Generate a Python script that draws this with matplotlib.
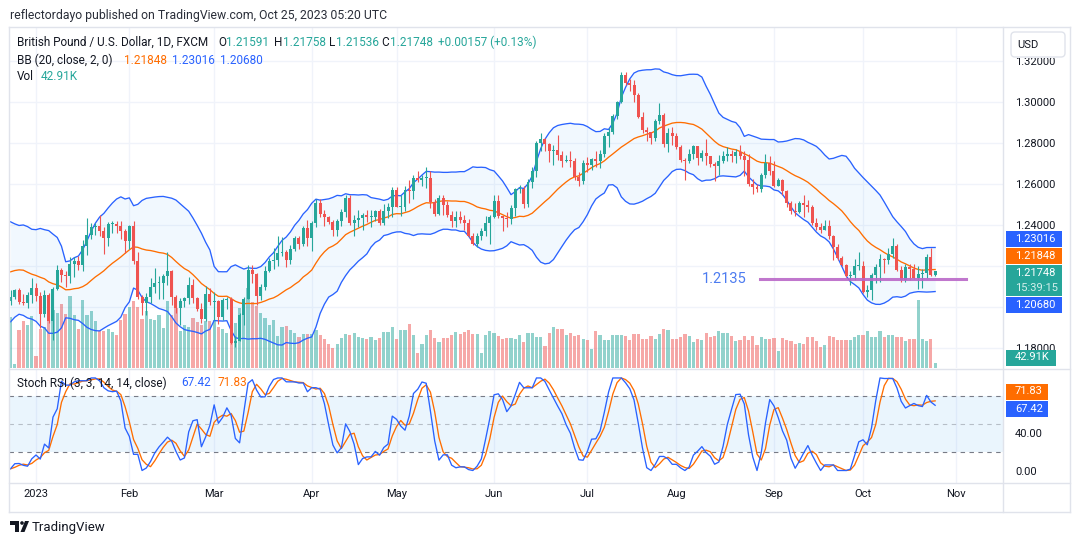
import matplotlib
matplotlib.use("Agg")
import matplotlib.pyplot as plt
import numpy as np
import pandas as pd
from matplotlib.patches import Rectangle, FancyBboxPatch, Polygon, Circle
from matplotlib.transforms import blended_transform_factory

W, H = 1080, 545
plt.rcParams["font.family"] = ["Roboto", "DejaVu Sans"]

DARK = "#131722"
GRID = "#f0f3fa"
BORDER = "#e0e3eb"
UP = "#26a69a"
DOWN = "#ef5350"
BLUE = "#2962ff"
ORANGE = "#ff6d00"

# closes Nov 1 - Dec 22 2022: indicator history only, not drawn
warm_close = [
    1.1470, 1.1390, 1.1160, 1.1375, 1.1510, 1.1540, 1.1330, 1.1700, 1.1770, 1.1760,
    1.1860, 1.1870, 1.1850, 1.1890, 1.1825, 1.1890, 1.2050, 1.2115, 1.2090, 1.1960,
    1.1960, 1.2050,
    1.2265, 1.2280, 1.2185, 1.2140, 1.2205, 1.2240, 1.2265, 1.2285, 1.2370, 1.2420,
    1.2190, 1.2140, 1.2155, 1.2150, 1.2105, 1.2030,
]

# daily bars Dec 23 2022 - Oct 25 2023 (open = previous close)
close = [
    1.2050, 1.2085, 1.2025, 1.2020, 1.2060, 1.2095,
    1.2055, 1.1965, 1.2060, 1.1935, 1.2090, 1.2180, 1.2155, 1.2150, 1.2210, 1.2225,
    1.2205, 1.2300, 1.2350, 1.2390, 1.2395, 1.2370, 1.2335, 1.2405, 1.2405, 1.2395,
    1.2370, 1.2320,
    1.2395, 1.2225, 1.2050, 1.2020, 1.2050, 1.2100, 1.2120, 1.2120, 1.2150, 1.2175,
    1.2050, 1.1995, 1.2030, 1.2045, 1.2110, 1.2045, 1.1990, 1.1945, 1.2065, 1.2025,
    1.2030, 1.1950, 1.2035, 1.2040, 1.1825, 1.1835, 1.1960, 1.2040, 1.2180, 1.2160,
    1.2055, 1.2100, 1.2175, 1.2225, 1.2230, 1.2265, 1.2270, 1.2230, 1.2285, 1.2335,
    1.2310, 1.2385, 1.2335,
    1.2410, 1.2505, 1.2455, 1.2440, 1.2415, 1.2375, 1.2420, 1.2465, 1.2530, 1.2410,
    1.2425, 1.2435, 1.2450, 1.2440, 1.2440, 1.2470, 1.2410, 1.2470, 1.2490, 1.2570,
    1.2490, 1.2490, 1.2570, 1.2565, 1.2630, 1.2620, 1.2630, 1.2630, 1.2510, 1.2455,
    1.2530, 1.2495, 1.2450, 1.2420, 1.2440, 1.2425, 1.2410, 1.2345, 1.2310, 1.2345,
    1.2370, 1.2410, 1.2440,
    1.2515, 1.2445, 1.2435, 1.2430, 1.2485, 1.2575, 1.2575, 1.2500, 1.2610, 1.2665,
    1.2800, 1.2820, 1.2795, 1.2760, 1.2765, 1.2740, 1.2710, 1.2715, 1.2710, 1.2635,
    1.2615, 1.2700,
    1.2690, 1.2720, 1.2710, 1.2745, 1.2835, 1.2855, 1.2930, 1.3000, 1.3130, 1.3090,
    1.3080, 1.3035, 1.2925, 1.2860, 1.2855, 1.2825, 1.2905, 1.2935, 1.2795, 1.2850,
    1.2835,
    1.2780, 1.2715, 1.2710, 1.2745, 1.2785, 1.2725, 1.2750, 1.2735, 1.2695, 1.2685,
    1.2710, 1.2735, 1.2745, 1.2735, 1.2755, 1.2735, 1.2715, 1.2600, 1.2585, 1.2575,
    1.2645, 1.2700, 1.2665,
    1.2590, 1.2620, 1.2565, 1.2505, 1.2470, 1.2465, 1.2505, 1.2495, 1.2490, 1.2410,
    1.2390, 1.2375, 1.2395, 1.2345, 1.2295, 1.2240, 1.2205, 1.2150, 1.2155, 1.2200,
    1.2200,
    1.2075, 1.2085, 1.2155, 1.2195, 1.2235, 1.2230, 1.2260, 1.2300, 1.2180, 1.2130,
    1.2195, 1.2185, 1.2140, 1.2160, 1.2165, 1.2245, 1.21591, 1.21748,
]

high = [
    1.2085, 1.2090, 1.2095, 1.2065, 1.2075, 1.2140,
    1.2120, 1.2075, 1.2085, 1.2070, 1.2100, 1.2205, 1.2190, 1.2175, 1.2245, 1.2245,
    1.2250, 1.2325, 1.2435, 1.2410, 1.2410, 1.2450, 1.2390, 1.2415, 1.2420, 1.2420,
    1.2420, 1.2380,
    1.2400, 1.2420, 1.2270, 1.2060, 1.2070, 1.2140, 1.2190, 1.2150, 1.2160, 1.2270,
    1.2180, 1.2060, 1.2045, 1.2050, 1.2145, 1.2135, 1.2050, 1.2020, 1.2105, 1.2095,
    1.2075, 1.2035, 1.2045, 1.2050, 1.2050, 1.1860, 1.1970, 1.2050, 1.2205, 1.2205,
    1.2165, 1.2115, 1.2200, 1.2240, 1.2290, 1.2345, 1.2340, 1.2280, 1.2305, 1.2345,
    1.2345, 1.2395, 1.2425,
    1.2420, 1.2525, 1.2525, 1.2475, 1.2445, 1.2425, 1.2430, 1.2480, 1.2545, 1.2545,
    1.2450, 1.2475, 1.2460, 1.2475, 1.2475, 1.2475, 1.2480, 1.2500, 1.2505, 1.2585,
    1.2585, 1.2545, 1.2590, 1.2620, 1.2645, 1.2665, 1.2645, 1.2680, 1.2665, 1.2525,
    1.2545, 1.2545, 1.2515, 1.2470, 1.2470, 1.2470, 1.2450, 1.2430, 1.2360, 1.2360,
    1.2385, 1.2445, 1.2450,
    1.2545, 1.2545, 1.2445, 1.2465, 1.2495, 1.2580, 1.2595, 1.2590, 1.2625, 1.2680,
    1.2810, 1.2850, 1.2825, 1.2800, 1.2790, 1.2840, 1.2760, 1.2740, 1.2760, 1.2725,
    1.2660, 1.2715,
    1.2730, 1.2725, 1.2760, 1.2765, 1.2850, 1.2870, 1.2940, 1.3005, 1.3145, 1.3145,
    1.3110, 1.3105, 1.3040, 1.2950, 1.2875, 1.2855, 1.2915, 1.2995, 1.2945, 1.2870,
    1.2875,
    1.2850, 1.2790, 1.2725, 1.2770, 1.2790, 1.2785, 1.2765, 1.2820, 1.2735, 1.2705,
    1.2740, 1.2760, 1.2780, 1.2765, 1.2770, 1.2790, 1.2760, 1.2745, 1.2625, 1.2600,
    1.2655, 1.2745, 1.2735,
    1.2710, 1.2630, 1.2625, 1.2570, 1.2515, 1.2505, 1.2515, 1.2545, 1.2520, 1.2495,
    1.2435, 1.2410, 1.2425, 1.2425, 1.2350, 1.2310, 1.2250, 1.2210, 1.2175, 1.2235,
    1.2270,
    1.2225, 1.2110, 1.2165, 1.2210, 1.2260, 1.2240, 1.2290, 1.2335, 1.2310, 1.2200,
    1.2210, 1.2210, 1.2210, 1.2200, 1.2185, 1.2260, 1.2290, 1.21758,
]

low = [
    1.2010, 1.2040, 1.2015, 1.2010, 1.1995, 1.2020,
    1.2030, 1.1900, 1.1950, 1.1925, 1.1840, 1.2085, 1.2125, 1.2100, 1.2120, 1.2145,
    1.2180, 1.2175, 1.2255, 1.2330, 1.2350, 1.2345, 1.2260, 1.2300, 1.2360, 1.2360,
    1.2330, 1.2265,
    1.2285, 1.2210, 1.2040, 1.1960, 1.1960, 1.2020, 1.2070, 1.2040, 1.2040, 1.2110,
    1.2010, 1.1970, 1.1915, 1.2000, 1.2015, 1.2020, 1.1980, 1.1925, 1.1935, 1.2010,
    1.1940, 1.1920, 1.1940, 1.1990, 1.1820, 1.1805, 1.1840, 1.1915, 1.2050, 1.2120,
    1.2010, 1.2035, 1.2085, 1.2170, 1.2185, 1.2200, 1.2250, 1.2195, 1.2210, 1.2275,
    1.2285, 1.2300, 1.2300,
    1.2275, 1.2390, 1.2440, 1.2395, 1.2405, 1.2345, 1.2345, 1.2395, 1.2440, 1.2400,
    1.2345, 1.2390, 1.2375, 1.2415, 1.2390, 1.2420, 1.2400, 1.2400, 1.2435, 1.2440,
    1.2490, 1.2445, 1.2470, 1.2505, 1.2525, 1.2610, 1.2590, 1.2580, 1.2485, 1.2445,
    1.2450, 1.2450, 1.2440, 1.2390, 1.2390, 1.2410, 1.2375, 1.2340, 1.2305, 1.2295,
    1.2325, 1.2345, 1.2310,
    1.2435, 1.2435, 1.2370, 1.2390, 1.2405, 1.2445, 1.2555, 1.2485, 1.2490, 1.2580,
    1.2635, 1.2760, 1.2760, 1.2705, 1.2690, 1.2715, 1.2680, 1.2705, 1.2680, 1.2620,
    1.2590, 1.2600,
    1.2660, 1.2670, 1.2680, 1.2675, 1.2730, 1.2780, 1.2845, 1.2915, 1.2995, 1.3080,
    1.3050, 1.3000, 1.2920, 1.2850, 1.2810, 1.2795, 1.2810, 1.2890, 1.2780, 1.2755,
    1.2790,
    1.2770, 1.2705, 1.2620, 1.2700, 1.2720, 1.2690, 1.2710, 1.2690, 1.2680, 1.2615,
    1.2645, 1.2700, 1.2710, 1.2705, 1.2700, 1.2720, 1.2640, 1.2590, 1.2550, 1.2560,
    1.2560, 1.2630, 1.2645,
    1.2585, 1.2595, 1.2545, 1.2490, 1.2455, 1.2445, 1.2460, 1.2440, 1.2465, 1.2400,
    1.2375, 1.2360, 1.2380, 1.2330, 1.2230, 1.2230, 1.2200, 1.2145, 1.2110, 1.2130,
    1.2180,
    1.2070, 1.2050, 1.2035, 1.2120, 1.2125, 1.2165, 1.2210, 1.2240, 1.2175, 1.2125,
    1.2125, 1.2130, 1.2135, 1.2090, 1.2095, 1.2140, 1.2150, 1.21536,
]

# volume in thousands
volume_k = [
    408, 32, 304, 376, 344, 416, 96, 312, 328, 392,
    464, 440, 512, 432, 576, 424, 312, 544, 424, 456,
    376, 296, 296, 312, 288, 264, 384, 432, 488, 536,
    488, 392, 456, 392, 384, 424, 320, 536, 424, 480,
    296, 344, 328, 400, 368, 344, 376, 376,
    384, 328, 312, 280, 440, 360, 480, 528, 640, 528, 496, 440, 400, 344, 384,
    256, 328, 336, 304, 280, 248, 272, 272, 272, 304, 264, 232, 192, 160, 192, 240,
    272, 264, 280, 248,
    240, 232, 248, 224, 240, 288, 288, 328, 232, 304,
    304, 352, 264, 120, 192, 264, 304, 240, 208, 240,
    240, 264, 288, 272, 288, 304, 272, 272, 120, 264,
    296, 280, 256, 232, 240, 240, 232, 264, 208, 280,
    280, 248, 248, 176, 280, 328, 312, 312, 264, 280,
    256, 264, 232, 224, 152, 296, 264, 224, 224, 264,
    264, 264, 256, 224, 272, 272, 232, 232, 256, 232,
    272, 312, 304, 232, 232,
    248,
    272, 256, 208, 232, 224, 280, 248, 256, 296, 280,
    280, 256, 216, 224, 256, 224, 256, 184, 248, 232,
    232, 240, 136, 240, 224, 216, 192, 200, 192, 248,
    248, 216, 168, 184, 256, 248, 224, 224, 224, 224,
    248, 264, 264, 296, 248, 248, 296, 248, 264, 264,
    248, 248, 216, 232, 232, 544, 232, 216, 232, 42.91,
]

price_ticks = [1.18, 1.20, 1.22, 1.24, 1.26, 1.28, 1.30, 1.32]
hidden_ticks = [1.20, 1.22]  # covered by the price badges in the reference
level = 1.2135

# ---- derived series ----
n_warm = len(warm_close)
all_close = pd.Series(warm_close + close)
dates = pd.bdate_range("2022-11-01", periods=len(all_close))[n_warm:]

opens = np.array([warm_close[-1]] + close[:-1])
closes = np.array(close)
highs = np.maximum(np.array(high), np.maximum(opens, closes))
lows = np.minimum(np.array(low), np.minimum(opens, closes))
x = np.arange(len(closes))
rising = closes >= opens

basis = all_close.rolling(20).mean()
dev = all_close.rolling(20).std(ddof=0)
upper = (basis + 2 * dev).values[n_warm:]
lower = (basis - 2 * dev).values[n_warm:]
basis = basis.values[n_warm:]

delta = all_close.diff()
gain = delta.clip(lower=0).ewm(alpha=1 / 14, adjust=False).mean()
loss = (-delta.clip(upper=0)).ewm(alpha=1 / 14, adjust=False).mean()
rsi = 100 - 100 / (1 + gain / loss)
lo, hi = rsi.rolling(14).min(), rsi.rolling(14).max()
stoch_k = (100 * (rsi - lo) / (hi - lo)).rolling(3).mean()
stoch_d = stoch_k.rolling(3).mean()
stoch_k = stoch_k.values[n_warm:]
stoch_d = stoch_d.values[n_warm:]

ext = pd.bdate_range(dates[0], "2023-11-30")
month_pos = [i for i in range(1, len(ext)) if ext[i].month != ext[i - 1].month]
month_lab = ["2023" if ext[i].month == 1 else ext[i].strftime("%b") for i in month_pos]

# ---- figure ----
fig = plt.figure(figsize=(W / 100, H / 100), dpi=100)
fig.patch.set_facecolor("white")


def rect(x0, y0, x1, y1):
    return [x0 / W, 1 - y1 / H, (x1 - x0) / W, (y1 - y0) / H]


axv = fig.add_axes(rect(9, 27, 1003, 368))
ax = fig.add_axes(rect(9, 27, 1003, 368), sharex=axv)
axs = fig.add_axes(rect(9, 370, 1003, 483), sharex=axv)
ax.patch.set_alpha(0)
for a in (axv, ax, axs):
    for s in a.spines.values():
        s.set_visible(False)

axv.set_xlim(-0.37, 234.0)
ax.set_ylim(1.17042, 1.33635)
axv.set_ylim(0, 341 * 8)
axs.set_ylim(-13.5, 108.6)

# grid (behind volume)
for m in month_pos:
    axv.axvline(m, color=GRID, lw=1, zorder=0)
    axs.axvline(m, color=GRID, lw=1, zorder=0)
tr = blended_transform_factory(axv.transAxes, ax.transData)
for p in price_ticks:
    axv.plot([0, 1], [p, p], transform=tr, color=GRID, lw=1, zorder=0)

# volume
vcol = [UP if r else DOWN for r in rising]
axv.bar(x, volume_k, width=0.75, color=vcol, alpha=0.5, lw=0, zorder=1)
axv.tick_params(left=False, labelleft=False, bottom=False, labelbottom=False)

# bollinger bands
ax.fill_between(x, lower, upper, color="#2196f3", alpha=0.06, lw=0, zorder=1)
ax.plot(x, upper, color=BLUE, lw=0.95, zorder=2)
ax.plot(x, lower, color=BLUE, lw=0.95, zorder=2)
ax.plot(x, basis, color=ORANGE, lw=0.95, zorder=2)

# candles
ccol = [UP if r else DOWN for r in rising]
ax.vlines(x, lows, highs, colors=ccol, lw=0.8, zorder=3)
body = np.maximum(np.abs(closes - opens), 0.0003)
ax.bar(x, body, bottom=np.minimum(opens, closes), width=0.7, color=ccol, lw=0, zorder=4)

# support level
ax.plot([176.8, 225.2], [level, level], color="#ba68c8", lw=2.2, alpha=0.9, zorder=5)
ax.text(168.3, level, f"{level:.4f}", color="#4d7cf0", fontsize=10.5,
        ha="center", va="center", zorder=5)

ax.yaxis.tick_right()
ax.set_yticks(price_ticks)
ax.set_yticklabels(["" if p in hidden_ticks else f"{p:.5f}" for p in price_ticks])
ax.tick_params(axis="y", length=0, pad=8.6, labelsize=8, labelcolor=DARK)
ax.tick_params(axis="x", bottom=False, labelbottom=False)

# stoch rsi pane
axs.axhspan(20, 80, color="#2196f3", alpha=0.09, lw=0, zorder=0)
for lvl, al in ((80, 1.0), (50, 0.45), (20, 1.0)):
    axs.axhline(lvl, color="#787b86", lw=0.8, ls=(0, (4, 4)), alpha=al, zorder=1)
axs.plot(x, stoch_k, color=BLUE, lw=0.95, zorder=3)
axs.plot(x, stoch_d, color=ORANGE, lw=0.95, zorder=2)
axs.yaxis.tick_right()
axs.set_yticks([0, 40])
axs.set_yticklabels(["0.00", "40.00"])
axs.tick_params(axis="y", length=0, pad=8.6, labelsize=8, labelcolor=DARK)
axs.set_xticks(month_pos)
axs.set_xticklabels(month_lab)
axs.tick_params(axis="x", length=0, pad=4.6, labelsize=8, labelcolor=DARK)

# ---- overlay in pixel coordinates ----
ov = fig.add_axes([0, 0, 1, 1])
ov.set_xlim(0, W)
ov.set_ylim(H, 0)
ov.axis("off")
ov.patch.set_alpha(0)

for (x0, y0, x1, y1) in [(9, 27, 1070, 27), (9, 512, 1070, 512), (9, 27, 9, 512),
                         (1070, 27, 1070, 512), (9, 369, 1070, 369), (9, 483, 1070, 483),
                         (1003, 27, 1003, 512)]:
    ov.plot([x0, x1], [y0, y1], color=BORDER, lw=1)


def put(px, py, s, color=DARK, size=8.5):
    ov.text(px, py, s, color=color, fontsize=size, ha="left", va="center")


put(10, 15, "reflectordayo published on TradingView.com, Oct 25, 2023 05:20 UTC", "#2a2e39", 8.8)

put(17, 42, "British Pound / U.S. Dollar, 1D, FXCM")
put(218, 42, "O")
put(226, 42, "1.21591", UP)
put(274, 42, "H")
put(283, 42, "1.21758", UP)
put(329, 42, "L")
put(336, 42, "1.21536", UP)
put(381, 42, "C")
put(390, 42, "1.21748", UP)
put(438, 42, "+0.00157 (+0.13%)", UP)

put(17, 60, "BB (20, close, 2, 0)")
put(124, 60, "1.21848", ORANGE)
put(172, 60, "1.23016", BLUE)
put(220, 60, "1.20680", BLUE)

put(17, 77, "Vol")
put(41, 77, "42.91K", UP)

put(17, 383, "Stoch RSI (3, 3, 14, 14, close)")
put(181, 383, "67.42", BLUE)
put(218, 383, "71.83", ORANGE)


def badge(yc, text, color, x1=1062, h=16):
    ov.add_patch(Rectangle((1006, yc - h / 2), x1 - 1006, h, color=color, lw=0))
    ov.text(1015, yc, text, color="white", fontsize=8, ha="left", va="center")


badge(238.5, "1.23016", BLUE)
badge(256, "1.21848", ORANGE)
ov.add_patch(Rectangle((1006, 265), 56, 31, color=UP, lw=0))
ov.text(1015, 273, "1.21748", color="white", fontsize=8, ha="left", va="center")
ov.text(1015, 288, "15:39:15", color="#d4efec", fontsize=8, ha="left", va="center")
badge(305, "1.20680", BLUE)
badge(357.5, "42.91K", UP, x1=1056)
badge(391.5, "71.83", ORANGE, x1=1048)
badge(408.5, "67.42", BLUE, x1=1048)

# USD box (partly covers the top price label, as in the reference)
ov.add_patch(Rectangle((1004, 28), 65, 30, color="white", lw=0))
ov.add_patch(FancyBboxPatch((1011, 32), 54, 25, boxstyle="round,pad=0,rounding_size=4",
                            fc="white", ec=BORDER, lw=1))
ov.text(1017, 44.5, "USD", color=DARK, fontsize=8, ha="left", va="center")

# TradingView logo
ov.add_patch(Polygon([(10, 521), (19, 521), (19, 532), (15, 532), (15, 525), (10, 525)],
                     closed=True, color=DARK, lw=0))
ov.add_patch(Circle((22, 523), 1.8, color=DARK, lw=0))
ov.add_patch(Polygon([(25, 521), (29, 521), (24.5, 532), (20.5, 532)], closed=True,
                     color=DARK, lw=0))
put(32, 527, "TradingView", DARK, 9.5)

fig.savefig("out.png", dpi=100, facecolor="white")
